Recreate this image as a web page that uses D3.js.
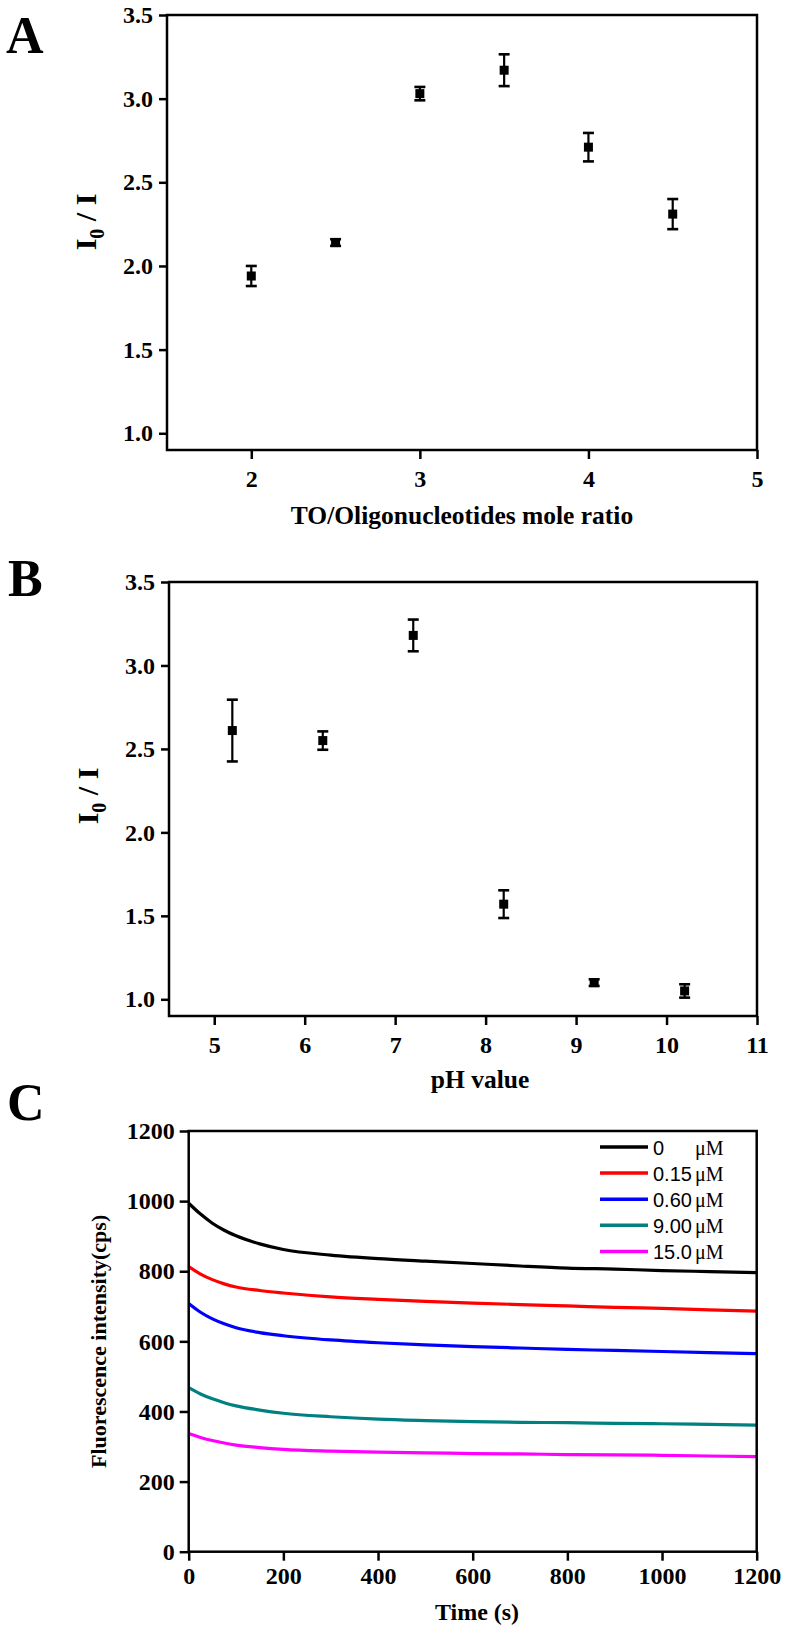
<!DOCTYPE html>
<html><head><meta charset="utf-8">
<script src="https://cdn.jsdelivr.net/npm/d3@7"></script>
<style>
html,body{margin:0;padding:0;background:#fff;}
svg{display:block;}
.tick text{font-family:"Liberation Serif","Times New Roman",serif;font-weight:bold;font-size:24px;fill:#000;}
.ttl{font-family:"Liberation Serif","Times New Roman",serif;font-weight:bold;fill:#000;}
</style></head>
<body>
<script>
// ---------- data ----------
const ratioX = [2, 2.5, 3, 3.5, 4, 4.5];
const ratioY = [1.94, 2.14, 3.03, 3.17, 2.71, 2.31];
const ratioErr = [0.06, 0.02, 0.04, 0.095, 0.085, 0.09];
const ratioTicksX = [2, 3, 4, 5];

const phX = [5.2, 6.2, 7.2, 8.2, 9.2, 10.2];
const phY = [2.61, 2.55, 3.18, 1.57, 1.10, 1.05];
const phErr = [0.185, 0.055, 0.095, 0.083, 0.02, 0.04];
const phTicksX = [5, 6, 7, 8, 9, 10, 11];

const ratioTicksY = [1.0, 1.5, 2.0, 2.5, 3.0, 3.5];

const timeS = [0, 25, 50, 75, 100, 150, 200, 300, 400, 500, 600, 700, 800, 900, 1000, 1100, 1200];
const c0    = [994, 963, 937, 917, 901, 878, 862, 846, 836, 829, 822, 815, 809, 806, 802, 799, 796];
const c015  = [813, 792, 776, 764, 755, 745, 738, 727, 720, 714, 709, 705, 701, 697, 694, 690, 686];
const c060  = [708, 683, 664, 650, 639, 625, 616, 604, 596, 590, 585, 581, 577, 574, 571, 568, 565];
const c900  = [468, 450, 436, 425, 416, 404, 395, 385, 378, 374, 371, 369, 368, 366, 365, 363, 361];
const c150  = [337, 326, 317, 310, 304, 297, 292, 287, 284, 282, 280, 279, 277, 276, 275, 273, 271];
const seriesNames = ["0", "0.15", "0.60", "9.00", "15.0"];
const seriesColors = ["#000000", "#ff0000", "#0000ff", "#008080", "#ff00ff"];
const timeTicks = [0, 200, 400, 600, 800, 1000, 1200];
const intensityTicks = [0, 200, 400, 600, 800, 1000, 1200];
const unitLabel = "μM";

// ---------- drawing ----------
const svg = d3.select("body").append("svg").attr("width", 790).attr("height", 1632);

function frame(g, l, r, t, b) {
  g.append("rect").attr("x", l).attr("y", t).attr("width", r - l).attr("height", b - t)
    .attr("fill", "none").attr("stroke", "#000").attr("stroke-width", 2.5);
}
function styleAxis(sel) {
  sel.select(".domain").remove();
  sel.selectAll(".tick line").attr("stroke", "#000").attr("stroke-width", 2.5);
}

function scatterPanel(opt) {
  const g = svg.append("g");
  const x = d3.scaleLinear().domain(opt.xdom).range([opt.l, opt.r]);
  const y = d3.scaleLinear().domain([0.9, 3.5]).range([opt.b, opt.t]);
  g.append("g").attr("transform", `translate(0,${opt.b})`)
    .call(d3.axisBottom(x).tickValues(opt.xticks).tickSize(9).tickPadding(11).tickFormat(d3.format("d")))
    .call(styleAxis);
  g.append("g").attr("transform", `translate(${opt.l},0)`)
    .call(d3.axisLeft(y).tickValues(ratioTicksY).tickSize(8).tickPadding(6).tickFormat(d3.format(".1f")))
    .call(styleAxis);
  frame(g, opt.l, opt.r, opt.t, opt.b);
  const pts = opt.xs.map((v, i) => ({x: v, y: opt.ys[i], e: opt.es[i]}));
  const eb = g.append("g").attr("stroke", "#000");
  eb.selectAll("line.v").data(pts).join("line")
    .attr("x1", d => x(d.x)).attr("x2", d => x(d.x))
    .attr("y1", d => y(d.y + d.e)).attr("y2", d => y(d.y - d.e)).attr("stroke-width", 2.2);
  eb.selectAll("line.ct").data(pts).join("line")
    .attr("x1", d => x(d.x) - 5.5).attr("x2", d => x(d.x) + 5.5)
    .attr("y1", d => y(d.y + d.e)).attr("y2", d => y(d.y + d.e)).attr("stroke-width", 2.6);
  eb.selectAll("line.cb").data(pts).join("line")
    .attr("x1", d => x(d.x) - 5.5).attr("x2", d => x(d.x) + 5.5)
    .attr("y1", d => y(d.y - d.e)).attr("y2", d => y(d.y - d.e)).attr("stroke-width", 2.6);
  g.selectAll("rect.m").data(pts).join("rect")
    .attr("x", d => x(d.x) - 4.5).attr("y", d => y(d.y) - 4.5)
    .attr("width", 9).attr("height", 9).attr("fill", "#000");
  const yt = g.append("text").attr("class", "ttl").attr("font-size", 30)
    .attr("transform", `translate(${opt.ytx},${opt.yty}) rotate(-90)`).attr("text-anchor", "middle");
  yt.append("tspan").text("I");
  yt.append("tspan").attr("font-size", 20).attr("dy", 8).text("0");
  yt.append("tspan").attr("dy", -8).text(" / I");
  g.append("text").attr("class", "ttl").attr("font-size", 25.5).attr("text-anchor", "middle")
    .attr("x", opt.xtx).attr("y", opt.xty).text(opt.xtitle);
  g.append("text").attr("class", "ttl").attr("font-size", 52)
    .attr("x", opt.px).attr("y", opt.py).text(opt.plabel);
}

scatterPanel({l: 167, r: 757, t: 15, b: 450, xdom: [1.5, 5], xticks: ratioTicksX,
  xs: ratioX, ys: ratioY, es: ratioErr, ytx: 96, yty: 222, xtx: 462, xty: 524,
  xtitle: "TO/Oligonucleotides mole ratio", plabel: "A", px: 6, py: 53});

scatterPanel({l: 169, r: 757, t: 582, b: 1016, xdom: [4.5, 11], xticks: phTicksX,
  xs: phX, ys: phY, es: phErr, ytx: 98, yty: 796, xtx: 480, xty: 1088,
  xtitle: "pH value", plabel: "B", px: 8, py: 596});

// Panel C
(function () {
  const l = 188.7, r = 756.7, t = 1131, b = 1551.7;
  const g = svg.append("g");
  const x = d3.scaleLinear().domain([0, 1200]).range([l, r]);
  const y = d3.scaleLinear().domain([0, 1200]).range([b, t]);
  g.append("g").attr("transform", `translate(0,${b})`)
    .call(d3.axisBottom(x).tickValues(timeTicks).tickSize(9).tickPadding(6).tickFormat(d3.format("d")))
    .call(styleAxis);
  g.append("g").attr("transform", `translate(${l},0)`)
    .call(d3.axisLeft(y).tickValues(intensityTicks).tickSize(9).tickPadding(5).tickFormat(d3.format("d")))
    .call(styleAxis);
  const all = [c0, c015, c060, c900, c150];
  const line = d3.line().x((d, i) => x(timeS[i])).y(d => y(d)).curve(d3.curveMonotoneX);
  g.selectAll("path.s").data(all).join("path")
    .attr("d", d => line(d)).attr("fill", "none")
    .attr("stroke", (d, i) => seriesColors[i]).attr("stroke-width", 3.2);
  frame(g, l, r, t, b);
  const lg = g.append("g");
  seriesNames.forEach((n, i) => {
    const yy = 1147 + i * 26.1;
    lg.append("line").attr("x1", 600).attr("x2", 648).attr("y1", yy).attr("y2", yy)
      .attr("stroke", seriesColors[i]).attr("stroke-width", 3.5);
    lg.append("text").attr("x", 653).attr("y", yy + 7.5)
      .attr("font-family", "Liberation Sans, Arial, sans-serif").attr("font-size", 20).text(n);
    lg.append("text").attr("x", 695).attr("y", yy + 7.5)
      .attr("font-family", "Liberation Serif, Times New Roman, serif").attr("font-size", 20).text(unitLabel);
  });
  g.append("text").attr("class", "ttl").attr("font-size", 22).attr("text-anchor", "middle")
    .attr("transform", `translate(106,${(t + b) / 2}) rotate(-90)`).text("Fluorescence intensity(cps)");
  g.append("text").attr("class", "ttl").attr("font-size", 24).attr("text-anchor", "middle")
    .attr("x", 477).attr("y", 1620).text("Time (s)");
  g.append("text").attr("class", "ttl").attr("font-size", 52).attr("x", 7).attr("y", 1120).text("C");
})();
</script>
</body></html>
